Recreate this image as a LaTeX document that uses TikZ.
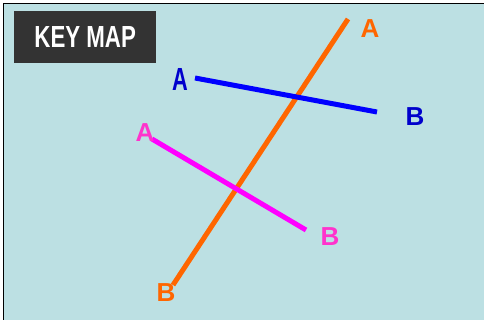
\documentclass[tikz,border=0pt]{standalone}
\usepackage{fontspec}
\setmainfont{Liberation Sans}
\usepackage{graphicx}
\definecolor{bgc}{HTML}{BCE0E3}
\definecolor{darkbox}{HTML}{333333}
\definecolor{orng}{HTML}{FF6600}
\definecolor{blueline}{HTML}{0000FF}
\definecolor{bluetext}{HTML}{0000CC}
\definecolor{magline}{HTML}{FF00FF}
\definecolor{magtext}{HTML}{FF33CC}
\tikzset{
  lbl/.style={inner sep=0pt, font=\bfseries\fontsize{26}{26}\selectfont},
  road/.style={line width=5pt, line cap=butt},
}
\begin{document}
\begin{tikzpicture}[x=1pt,y=-1pt]
\useasboundingbox (0,0) rectangle (484,320);
\fill[white] (0,0) rectangle (484,320);
\fill[bgc] (3.5,3.5) rectangle (484,320);
\draw[black, line width=1pt] (3.5,320) -- (3.5,3.5) -- (484,3.5);
% key map box
\node[fill=darkbox, minimum width=142pt, minimum height=52pt, inner sep=0pt, anchor=north west,
      text=white] (key) at (14,11) {\scalebox{0.73}[1]{\bfseries\fontsize{30.5}{30.5}\selectfont KEY MAP}};
% endpoints
\coordinate (oA) at (348,19);
\coordinate (oB) at (173,285);
\coordinate (bA) at (195,78);
\coordinate (bB) at (377,112);
\coordinate (mA) at (152,139);
\coordinate (mB) at (306,230);
\draw[road, orng] (oA) -- (oB);
\draw[road, blueline] (bA) -- (bB);
\draw[road, magline] (mA) -- (mB);
% labels
\node[lbl, text=orng] (loA) at (370,29) {A};
\node[lbl, text=orng] (loB) at (166,293) {B};
\node[lbl, text=bluetext, font=\bfseries\fontsize{32}{32}\selectfont] (lbA) at (180,79) {\scalebox{0.68}[1]{A}};
\node[lbl, text=bluetext] (lbB) at (415,117) {B};
\node[lbl, text=magtext] (lmA) at (145,133) {A};
\node[lbl, text=magtext] (lmB) at (330,237) {B};
\end{tikzpicture}
\end{document}
